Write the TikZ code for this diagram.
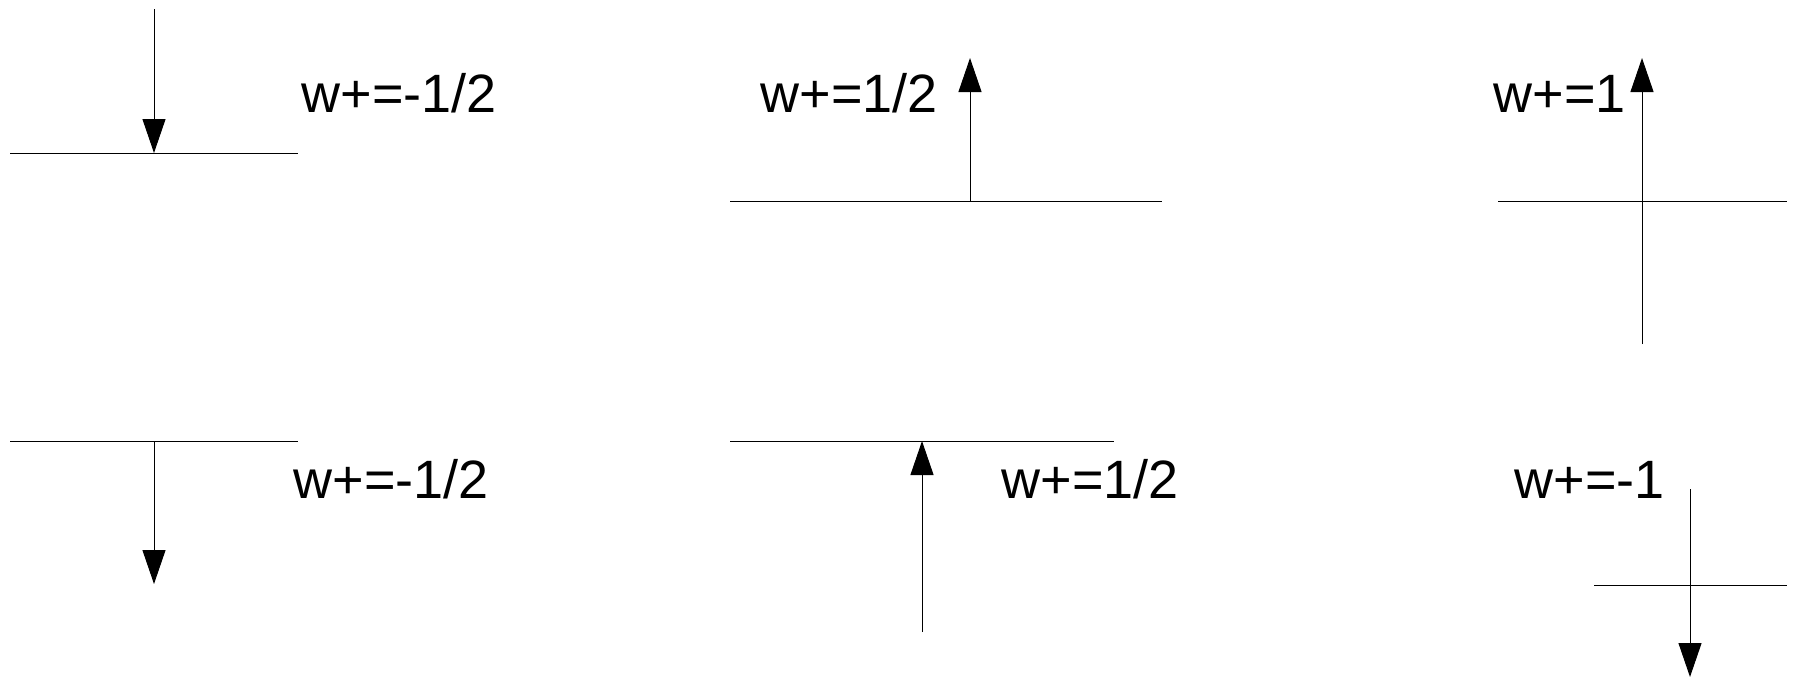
\documentclass[tikz,border=0pt]{standalone}
\usepackage{fontspec}
\setmainfont{Liberation Sans}
\usetikzlibrary{arrows.meta}
\newcommand\lblfont{\fontsize{54}{64}\selectfont}

\begin{document}
\begin{tikzpicture}[x=1pt, y=-1pt, line width=1pt, >={Triangle[width=23pt,length=34pt]},
  lbl/.style={font=\lblfont, anchor=base west, inner sep=0pt}]
  \useasboundingbox (0,0) rectangle (1794,678);
  % top row
  \coordinate (l1) at (10,153);  \coordinate (r1) at (298,153);
  \coordinate (s1) at (154,9);   \coordinate (e1) at (154,153);
  \draw (l1) -- (r1);
  \draw[->] (s1) -- (e1);
  \node[lbl] (w1) at (301,112) {w+=-1/2};

  \coordinate (l2) at (730,201); \coordinate (r2) at (1162,201);
  \coordinate (s2) at (970,201); \coordinate (e2) at (970,58);
  \draw (l2) -- (r2);
  \draw[->] (s2) -- (e2);
  \node[lbl] (w2) at (760,112) {w+=1/2};

  \coordinate (l3) at (1498,201); \coordinate (r3) at (1787,201);
  \coordinate (s3) at (1642,344); \coordinate (e3) at (1642,58);
  \draw (l3) -- (r3);
  \draw[->] (s3) -- (e3);
  \node[lbl] (w3) at (1493,112) {w+=1};

  % bottom row
  \coordinate (l4) at (10,441);  \coordinate (r4) at (298,441);
  \coordinate (s4) at (154,441); \coordinate (e4) at (154,584);
  \draw (l4) -- (r4);
  \draw[->] (s4) -- (e4);
  \node[lbl] (w4) at (293,498) {w+=-1/2};

  \coordinate (l5) at (730,441); \coordinate (r5) at (1114,441);
  \coordinate (s5) at (922,632); \coordinate (e5) at (922,441);
  \draw (l5) -- (r5);
  \draw[->] (s5) -- (e5);
  \node[lbl] (w5) at (1001,498) {w+=1/2};

  \coordinate (l6) at (1594,585); \coordinate (r6) at (1787,585);
  \coordinate (s6) at (1690,489); \coordinate (e6) at (1690,677);
  \draw (l6) -- (r6);
  \draw[->] (s6) -- (e6);
  \node[lbl] (w6) at (1514,498) {w+=-1};
\end{tikzpicture}
\end{document}
